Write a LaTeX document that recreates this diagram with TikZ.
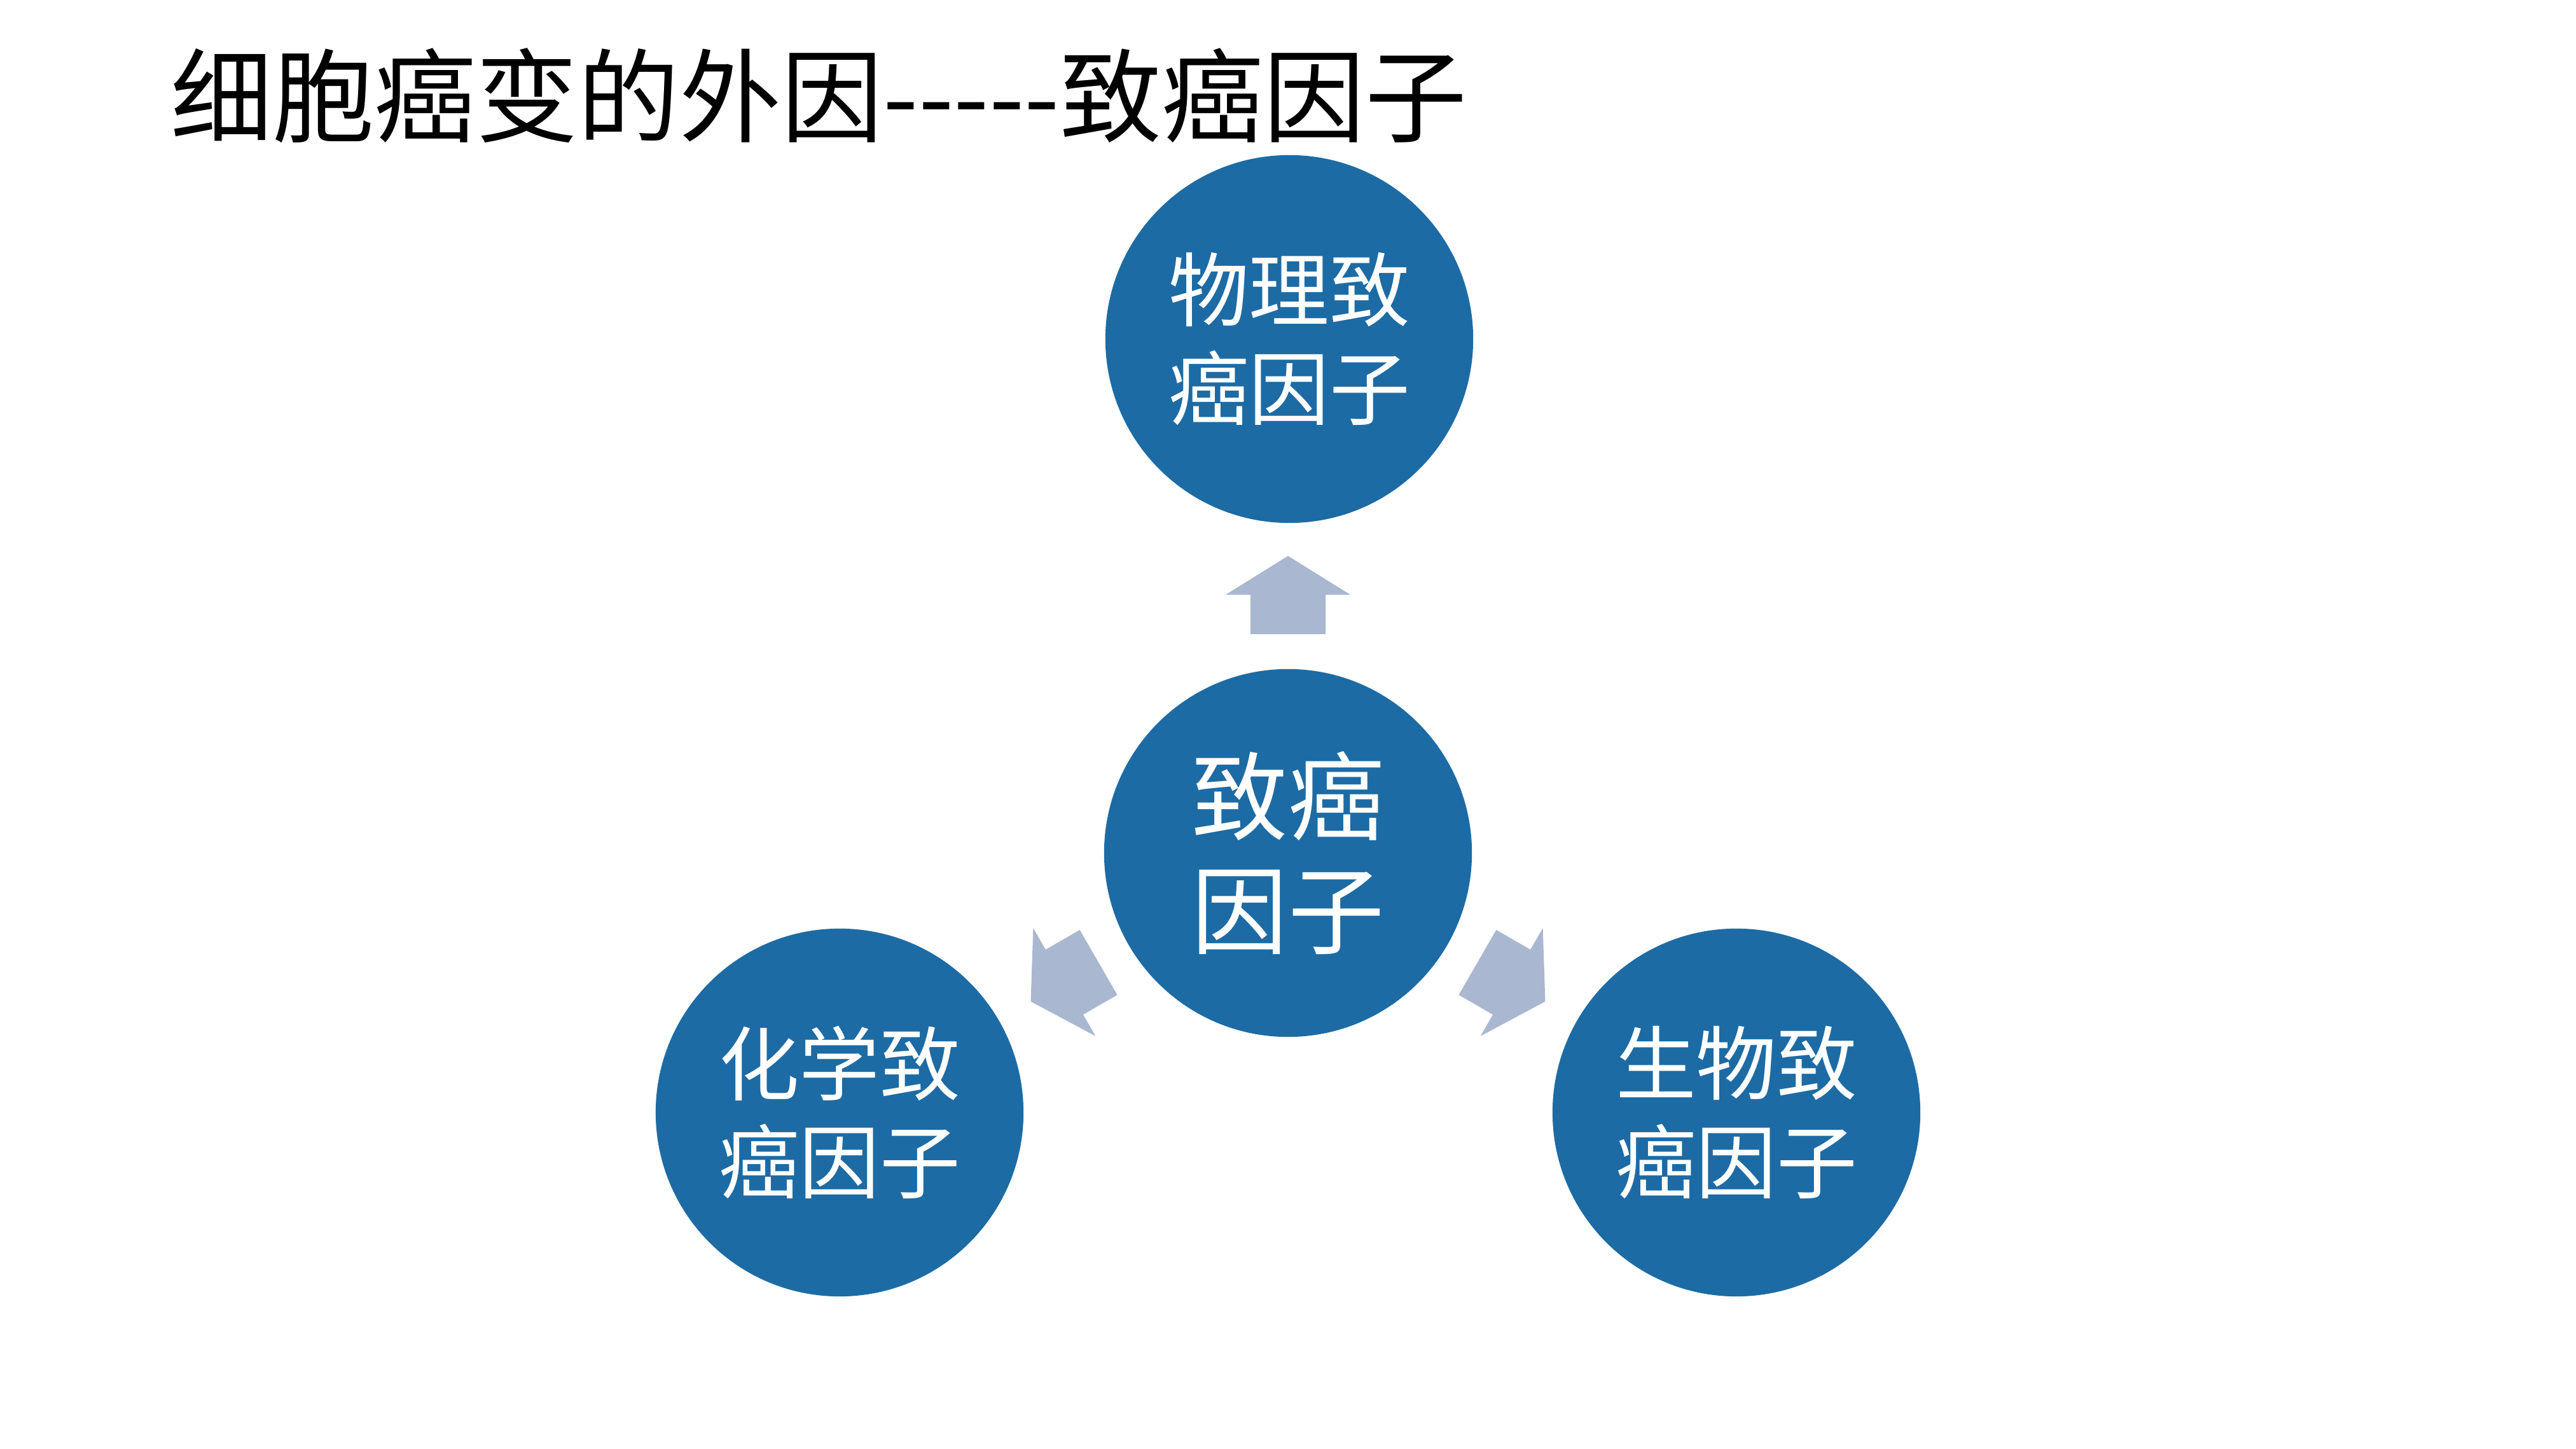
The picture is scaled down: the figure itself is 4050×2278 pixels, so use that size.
\documentclass[tikz,border=0pt]{standalone}
\usepackage{fontspec}
\newfontfamily\cjk{Noto Sans CJK SC}
\definecolor{circblue}{RGB}{29,107,164}
\definecolor{arrowgray}{RGB}{169,184,208}
\begin{document}
\begin{tikzpicture}[x=0.01cm,y=0.01cm,
  bigcirc/.style={circle,fill=circblue,draw=none,minimum size=5.78cm,inner sep=0,text=white,align=center},
  smalltxt/.style={font=\cjk\fontsize{36}{44}\selectfont},
  centertxt/.style={font=\cjk\fontsize{43}{51}\selectfont},
  blockarrow/.style={fill=arrowgray,draw=none}]
\fill[white] (0,0) rectangle (4050,2278);
\useasboundingbox (0,0) rectangle (4050,2278);
\node[anchor=west,inner sep=0,font=\cjk\fontsize{45.5}{54}\selectfont] (title) at (268,2128) {细胞癌变的外因-----致癌因子};
\node[bigcirc,centertxt] (c) at (2025,937) {致癌\\因子};
\node[bigcirc,smalltxt] (top) at (2027,1745) {物理致\\癌因子};
\node[bigcirc,smalltxt] (left) at (1320,529) {化学致\\癌因子};
\node[bigcirc,smalltxt] (right) at (2730,529) {生物致\\癌因子};
\foreach \ang in {0,120,-120}{
  \begin{scope}[shift={(c.center)},rotate=\ang]
    \fill[blockarrow] (0,467) -- (98,406) -- (59,406) -- (59,344) -- (-59,344) -- (-59,406) -- (-98,406) -- cycle;
  \end{scope}
}
\end{tikzpicture}
\end{document}
